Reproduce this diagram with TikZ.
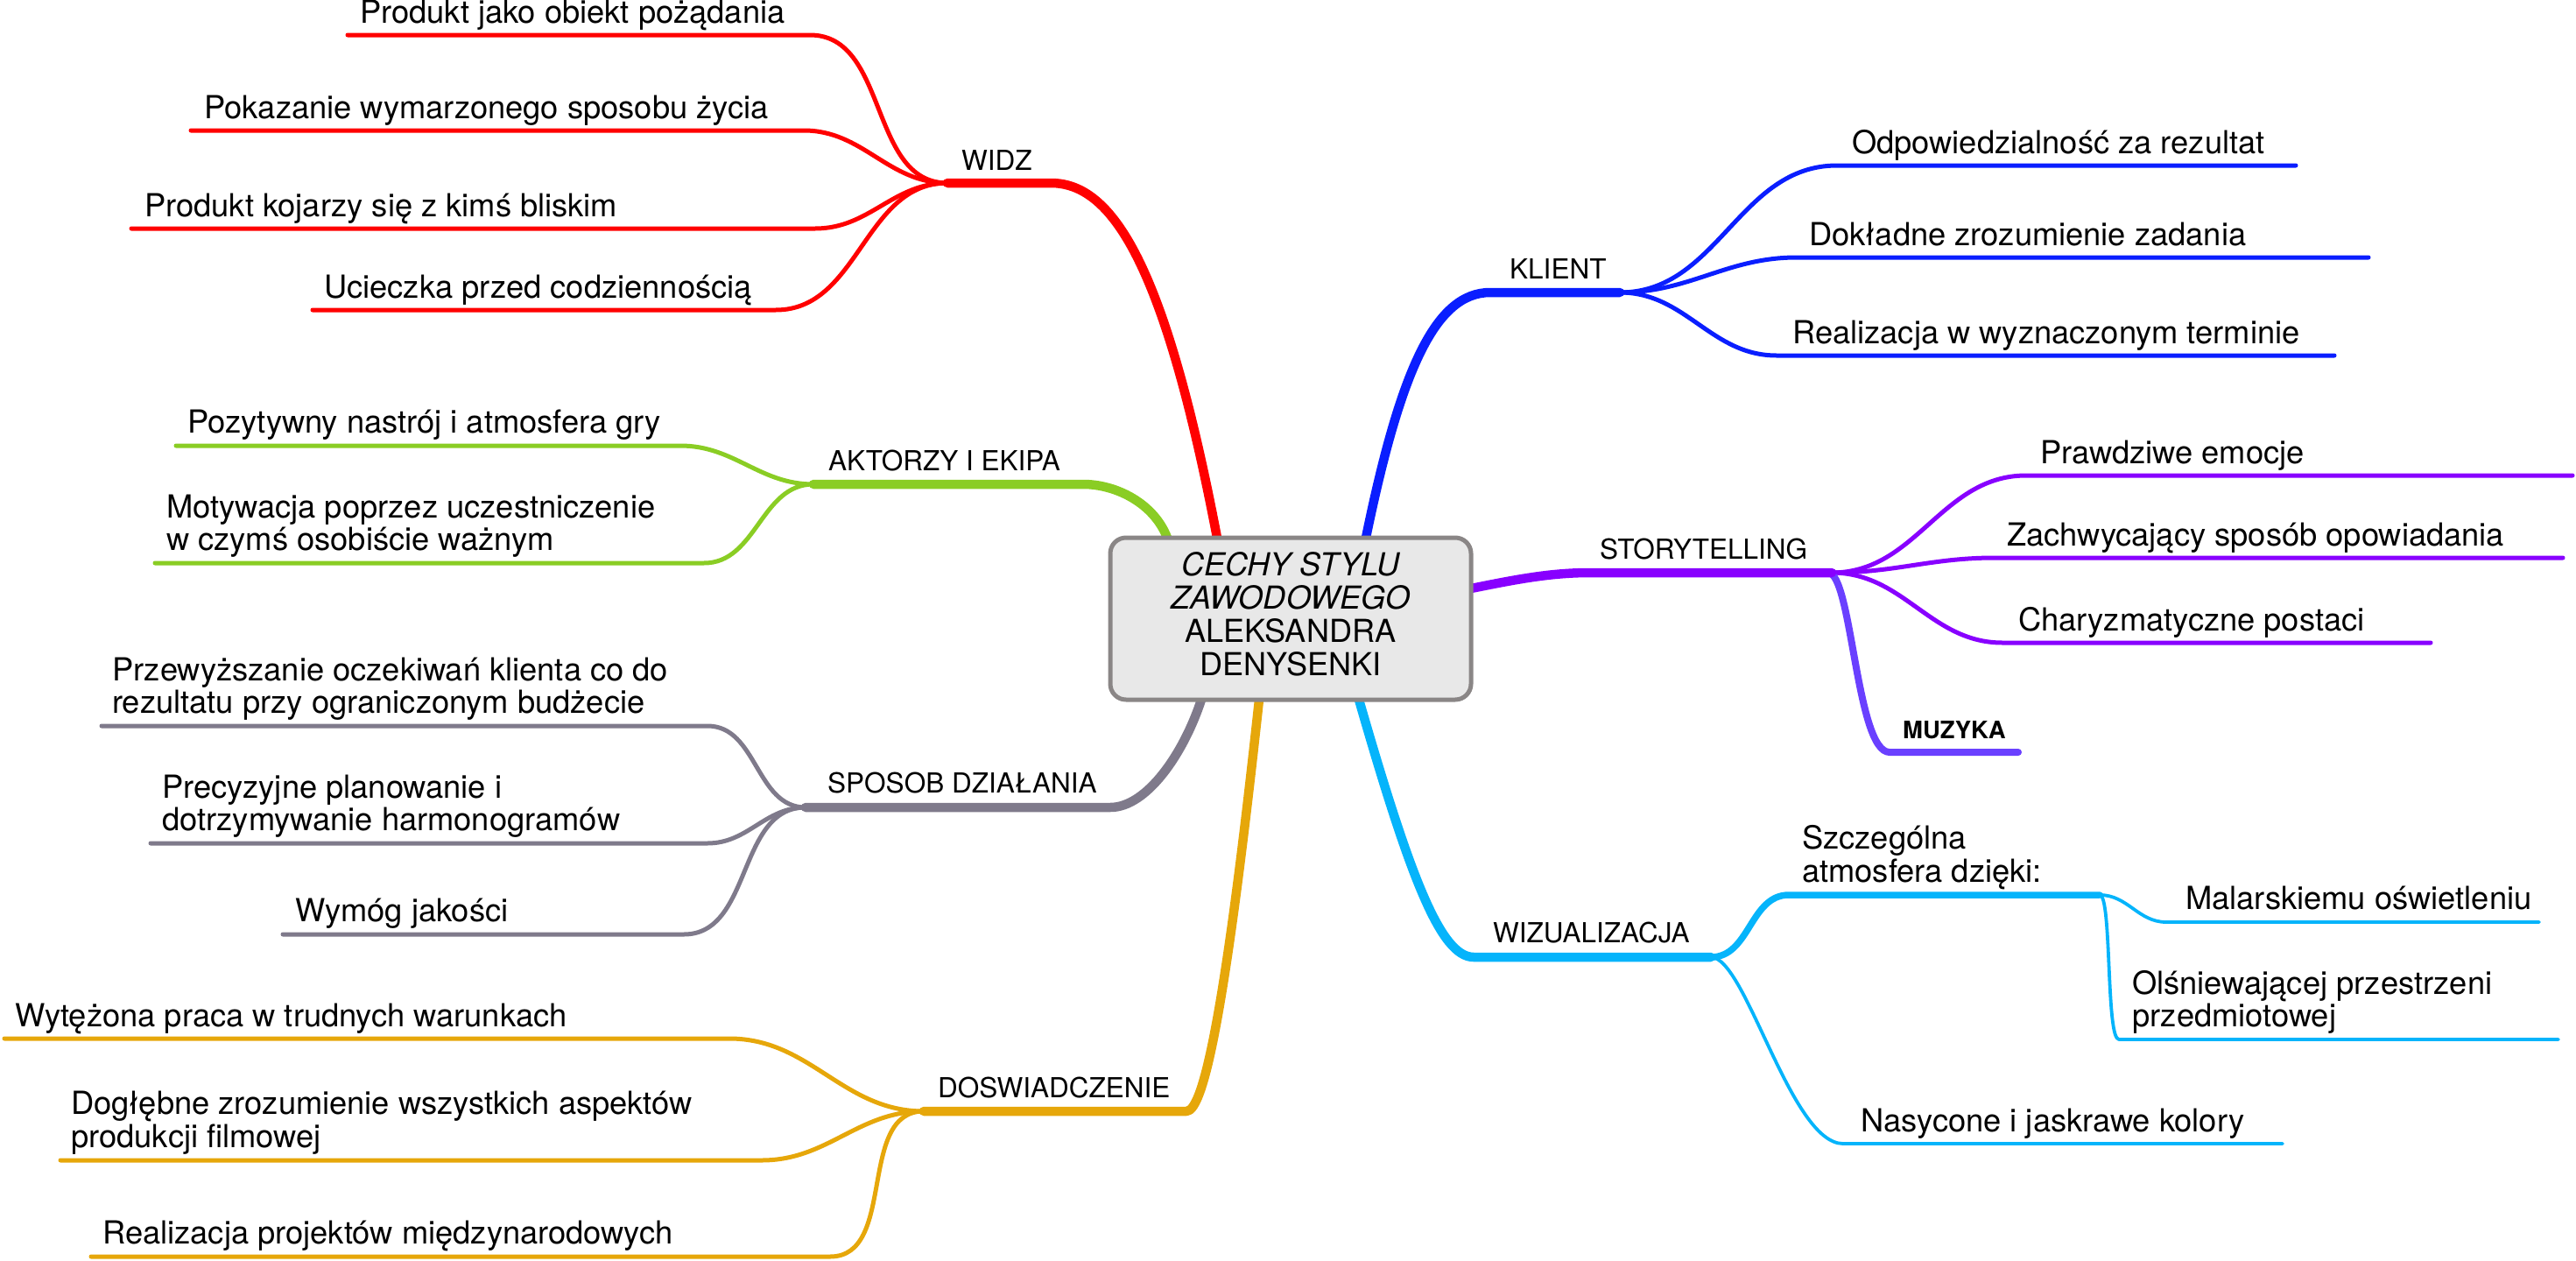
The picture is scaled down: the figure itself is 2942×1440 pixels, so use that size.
\documentclass[tikz,border=0pt]{standalone}
\usepackage{fontspec}
\setmainfont{TeX Gyre Heros}
\usetikzlibrary{calc}
\definecolor{cred}{HTML}{FF0000}
\definecolor{cgreen}{HTML}{8ACD24}
\definecolor{cgray}{HTML}{7F7A8B}
\definecolor{corange}{HTML}{E6A70A}
\definecolor{cblue}{HTML}{0A1EFF}
\definecolor{cpurple}{HTML}{8800FF}
\definecolor{cviolet}{HTML}{6A40FF}
\definecolor{ccyan}{HTML}{05B4FB}
\definecolor{boxfill}{HTML}{E8E8E8}
\definecolor{boxdraw}{HTML}{8A8686}
\newcommand{\twolines}[2]{\begin{tabular}[b]{@{}l@{}}#1\\#2\end{tabular}}
\begin{document}
\begin{tikzpicture}[x=1pt,y=-1pt,
  leaf/.style={font=\fontsize{36.3}{35}\selectfont, inner sep=0pt, anchor=base west},
  lab/.style={font=\fontsize{31.5}{31.5}\selectfont, inner sep=0pt, anchor=base west},
  mainline/.style={line width=10.5pt, line cap=round, line join=round},
  leafline/.style={line width=5pt, line cap=round, line join=round},
  thinline/.style={line width=3.8pt, line cap=round, line join=round},
  centerbox/.style={draw=boxdraw, fill=boxfill, line width=5pt, rounded corners=18pt,
    minimum width=412pt, minimum height=185pt, inner sep=0pt,
    font=\fontsize{36.1}{36.5}\selectfont}
]
\useasboundingbox (0,0) rectangle (2942,1440);

% ---------- coordinates ----------
% WIDZ
\coordinate (widz-s) at (1390,614);
\coordinate (widz-c) at (1200,209);
\coordinate (widz-h) at (1082,209);
\coordinate (w1a) at (925,40);  \coordinate (w1b) at (397,40);
\coordinate (w2a) at (918,149); \coordinate (w2b) at (218,149);
\coordinate (w3a) at (931,261); \coordinate (w3b) at (150,261);
\coordinate (w4a) at (886,354); \coordinate (w4b) at (357,354);
% AKTORZY
\coordinate (akt-s) at (1333,614);
\coordinate (akt-c) at (1237,553);
\coordinate (akt-h) at (929,553);
\coordinate (a1a) at (777,509); \coordinate (a1b) at (201,509);
\coordinate (a2a) at (804,643); \coordinate (a2b) at (177,643);
% SPOSOB
\coordinate (sp-s) at (1372,799);
\coordinate (sp-c) at (1268,922);
\coordinate (sp-h) at (920,922);
\coordinate (s1a) at (808,829); \coordinate (s1b) at (116,829);
\coordinate (s2a) at (808,963); \coordinate (s2b) at (172,963);
\coordinate (s3a) at (781,1067); \coordinate (s3b) at (323,1067);
% DOSWIADCZENIE
\coordinate (dos-s) at (1438,799);
\coordinate (dos-c) at (1355,1269);
\coordinate (dos-h) at (1055,1269);
\coordinate (d1a) at (833,1186); \coordinate (d1b) at (5,1186);
\coordinate (d2a) at (870,1325); \coordinate (d2b) at (69,1325);
\coordinate (d3a) at (948,1435); \coordinate (d3b) at (104,1435);
% KLIENT
\coordinate (kl-s) at (1560,614);
\coordinate (kl-c) at (1702,334);
\coordinate (kl-h) at (1850,334);
\coordinate (k1a) at (2098,189); \coordinate (k1b) at (2622,189);
\coordinate (k2a) at (2052,294); \coordinate (k2b) at (2705,294);
\coordinate (k3a) at (2029,406); \coordinate (k3b) at (2666,406);
% STORYTELLING
\coordinate (st-s) at (1680,672);
\coordinate (st-c) at (1816,654);
\coordinate (st-h) at (2092,654);
\coordinate (t1a) at (2314,543); \coordinate (t1b) at (2938,543);
\coordinate (t2a) at (2278,637); \coordinate (t2b) at (2927,637);
\coordinate (t3a) at (2287,734); \coordinate (t3b) at (2776,734);
\coordinate (mz-s) at (2088,654);
\coordinate (mz-a) at (2158,859); \coordinate (mz-b) at (2305,859);
% WIZUALIZACJA
\coordinate (wz-s) at (1552,799);
\coordinate (wz-c) at (1683,1093);
\coordinate (wz-h) at (1954,1093);
\coordinate (sz-a) at (2043,1022); \coordinate (sz-b) at (2398,1022);
\coordinate (m1a) at (2474,1053); \coordinate (m1b) at (2900,1053);
\coordinate (o1a) at (2420,1187); \coordinate (o1b) at (2922,1187);
\coordinate (n1a) at (2105,1306); \coordinate (n1b) at (2607,1306);

% ---------- leaf connectors ----------
\begin{scope}[leafline, draw=cred]
  \draw (widz-h) to[out=180,in=0] (w1a) -- (w1b);
  \draw (widz-h) to[out=180,in=0] (w2a) -- (w2b);
  \draw (widz-h) to[out=180,in=0] (w3a) -- (w3b);
  \draw (widz-h) to[out=180,in=0] (w4a) -- (w4b);
\end{scope}
\begin{scope}[leafline, draw=cgreen]
  \draw (akt-h) to[out=180,in=0] (a1a) -- (a1b);
  \draw (akt-h) to[out=180,in=0] (a2a) -- (a2b);
\end{scope}
\begin{scope}[leafline, draw=cgray]
  \draw (sp-h) to[out=180,in=0] (s1a) -- (s1b);
  \draw (sp-h) to[out=180,in=0] (s2a) -- (s2b);
  \draw (sp-h) to[out=180,in=0] (s3a) -- (s3b);
\end{scope}
\begin{scope}[leafline, draw=corange]
  \draw (dos-h) to[out=180,in=0] (d1a) -- (d1b);
  \draw (dos-h) to[out=180,in=0] (d2a) -- (d2b);
  \draw (dos-h) to[out=180,in=0] (d3a) -- (d3b);
\end{scope}
\begin{scope}[leafline, draw=cblue]
  \draw (kl-h) to[out=0,in=180] (k1a) -- (k1b);
  \draw (kl-h) to[out=0,in=180] (k2a) -- (k2b);
  \draw (kl-h) to[out=0,in=180] (k3a) -- (k3b);
\end{scope}
\begin{scope}[leafline, draw=cpurple]
  \draw (st-h) to[out=0,in=180] (t1a) -- (t1b);
  \draw (st-h) to[out=0,in=180] (t2a) -- (t2b);
  \draw (st-h) to[out=0,in=180] (t3a) -- (t3b);
\end{scope}
\draw[line width=8pt, line cap=round, line join=round, cviolet]
  (mz-s) .. controls +(27,0) and +(-38,0) .. (mz-a) -- (mz-b);
\draw[line width=7.5pt, line cap=round, line join=round, ccyan]
  (wz-h) to[out=0,in=180] (sz-a) -- (sz-b);
\begin{scope}[thinline, draw=ccyan]
  \draw (sz-b) to[out=0,in=180] (m1a) -- (m1b);
  \draw (sz-b) .. controls +(14,0) and +(-15,0) .. (o1a) -- (o1b);
  \draw (wz-h) .. controls +(40,0) and +(-60,0) .. (n1a) -- (n1b);
\end{scope}

% ---------- main branches ----------
\draw[mainline, cred]    (widz-s) .. controls +(-60,-314) and +(70,0) .. (widz-c) -- (widz-h);
\draw[mainline, cgreen]  (akt-s) .. controls +(-15,-39) and +(38,0) .. (akt-c) -- (akt-h);
\draw[mainline, cgray]   (sp-s) .. controls +(-20,61) and +(42,0) .. (sp-c) -- (sp-h);
\draw[mainline, corange] (dos-s) .. controls +(-38,351) and +(20,0) .. (dos-c) -- (dos-h);
\draw[mainline, cblue]   (kl-s) .. controls +(40,-194) and +(-62,0) .. (kl-c) -- (kl-h);
\draw[mainline, cpurple] (st-s) .. controls +(50,-10) and +(-46,0) .. (st-c) -- (st-h);
\draw[mainline, ccyan]   (wz-s) .. controls +(58,201) and +(-38,0) .. (wz-c) -- (wz-h);

% ---------- central node ----------
\node[centerbox] (center) at (1474,706.5)
  {\begin{tabular}{@{}c@{}}\itshape CECHY STYLU\\\itshape ZAWODOWEGO\\ALEKSANDRA\\DENYSENKI\end{tabular}};

% ---------- branch labels ----------
\node[lab] (widz) at (1098,194) {WIDZ};
\node[lab] (aktorzy) at (946,537) {AKTORZY I EKIPA};
\node[lab] (sposob) at (945,905) {SPOSOB DZIAŁANIA};
\node[lab] (dosw) at (1071,1253) {DOSWIADCZENIE};
\node[lab] (klient) at (1724,318) {KLIENT};
\node[lab] (story) at (1827,638) {STORYTELLING};
\node[lab] (wizual) at (1705,1076) {WIZUALIZACJA};
\node[font=\fontsize{27.5}{27.5}\selectfont\bfseries, inner sep=0pt, anchor=base west] (muzyka) at (2173,843) {MUZYKA};

% ---------- leaf texts ----------
\node[leaf] (w1) at (411,27) {Produkt jako obiekt pożądania};
\node[leaf] (w2) at (233,135) {Pokazanie wymarzonego sposobu życia};
\node[leaf] (w3) at (165,247) {Produkt kojarzy się z kimś bliskim};
\node[leaf] (w4) at (370,340) {Ucieczka przed codziennością};

\node[leaf] (a1) at (214,494) {Pozytywny nastrój i atmosfera gry};
\node[leaf] (a2) at (190,628) {\twolines{Motywacja poprzez uczestniczenie}{w czymś osobiście ważnym}};

\node[leaf] (s1) at (128,814) {\twolines{Przewyższanie oczekiwań klienta co do}{rezultatu przy ograniczonym budżecie}};
\node[leaf] (s2) at (185,948) {\twolines{Precyzyjne planowanie i}{dotrzymywanie harmonogramów}};
\node[leaf] (s3) at (337,1052) {Wymóg jakości};

\node[leaf] (d1) at (17,1172) {Wytężona praca w trudnych warunkach};
\node[leaf] (d2) at (81,1310) {\twolines{Dogłębne zrozumienie wszystkich aspektów}{produkcji filmowej}};
\node[leaf] (d3) at (117,1420) {Realizacja projektów międzynarodowych};

\node[leaf] (k1) at (2115,175) {Odpowiedzialność za rezultat};
\node[leaf] (k2) at (2066,280) {Dokładne zrozumienie zadania};
\node[leaf] (k3) at (2047,392) {Realizacja w wyznaczonym terminie};

\node[leaf] (t1) at (2330,529) {Prawdziwe emocje};
\node[leaf] (t2) at (2292,623) {Zachwycający sposób opowiadania};
\node[leaf] (t3) at (2305,720) {Charyzmatyczne postaci};

\node[leaf] (sz) at (2058,1007) {\twolines{Szczególna}{atmosfera dzięki:}};
\node[leaf] (m1) at (2496,1038) {Malarskiemu oświetleniu};
\node[leaf] (o1) at (2435,1172) {\twolines{Olśniewającej przestrzeni}{przedmiotowej}};
\node[leaf] (n1) at (2125,1292) {Nasycone i jaskrawe kolory};
\end{tikzpicture}
\end{document}
